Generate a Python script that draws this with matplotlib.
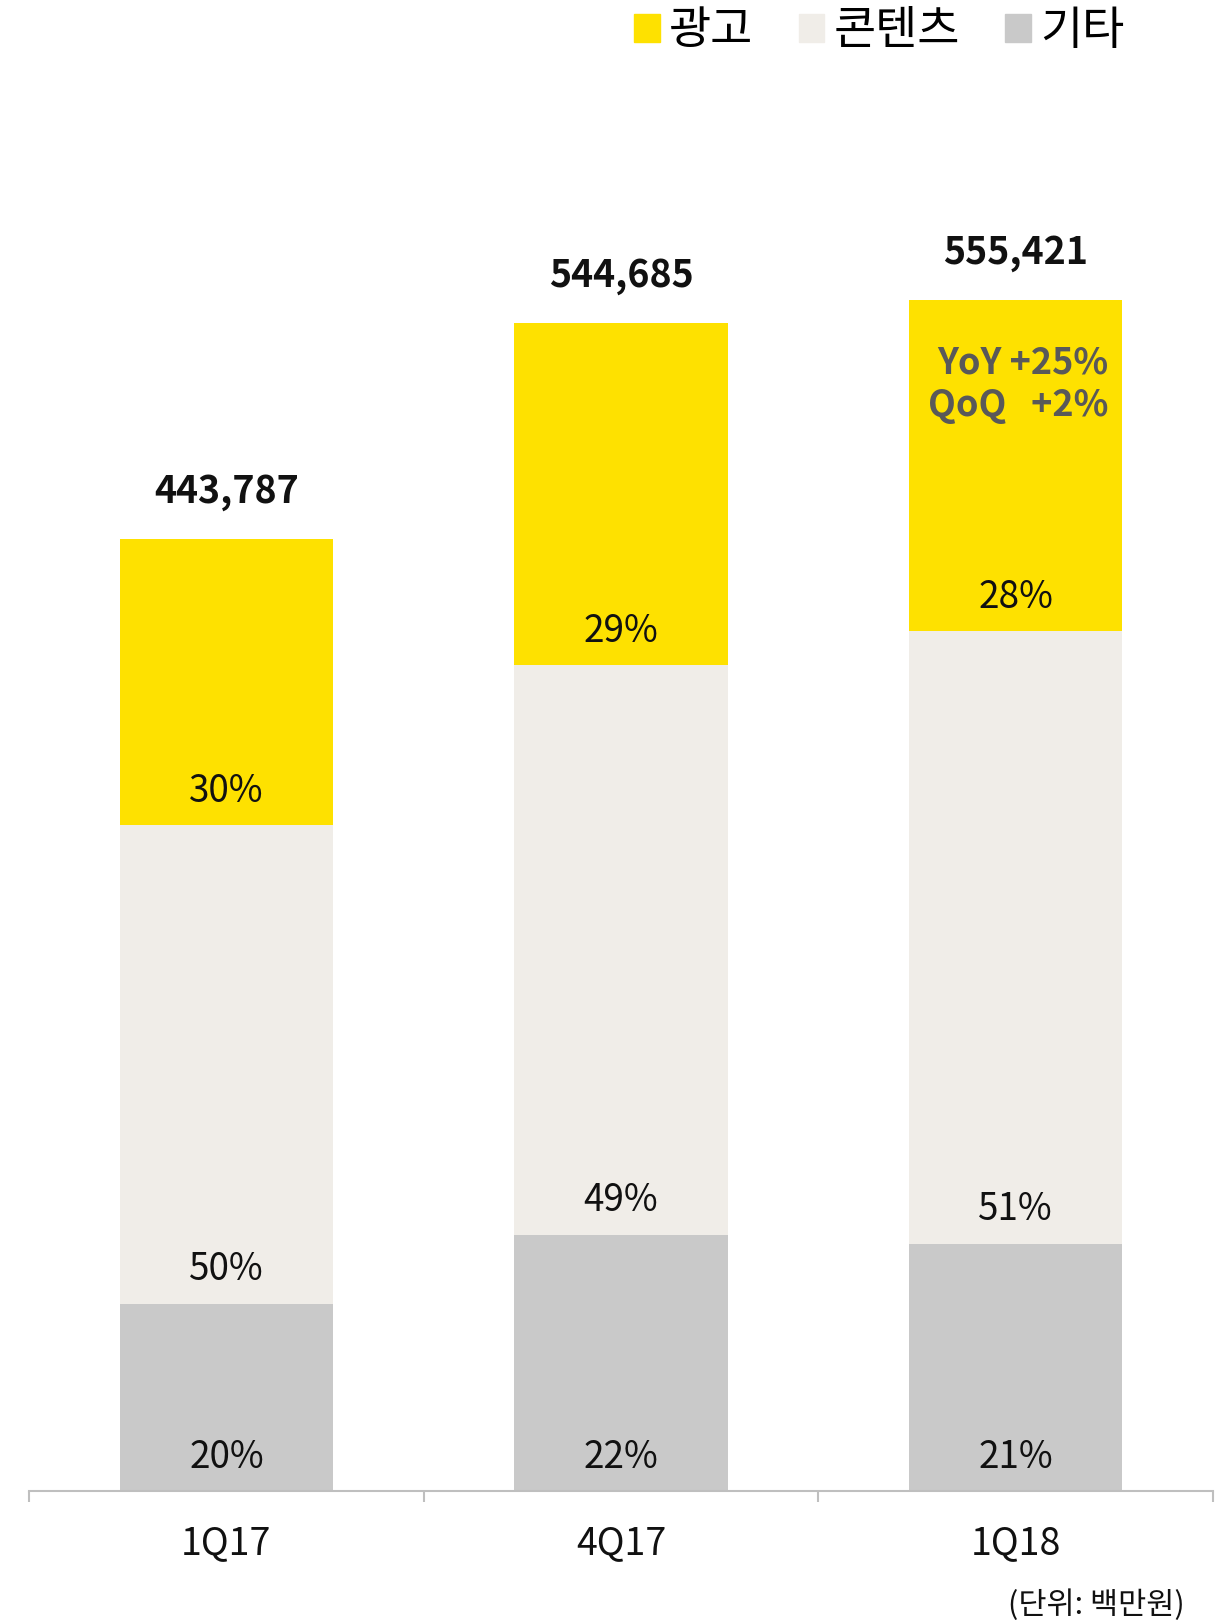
import matplotlib
matplotlib.use("Agg")
import matplotlib.pyplot as plt
from matplotlib.patches import Patch
import numpy as np

plt.rcParams['font.family'] = ['Noto Sans CJK KR', 'DejaVu Sans']

quarters = ["1Q17", "4Q17", "1Q18"]
# 백만원
other = [87000, 119300, 115000]
content = [223700, 265800, 286000]
ads = [133087, 159585, 154421]
totals = ["443,787", "544,685", "555,421"]
other_pct = ["20%", "22%", "21%"]
content_pct = ["50%", "49%", "51%"]
ads_pct = ["30%", "29%", "28%"]
growth_note = "YoY +25%\nQoQ   +2%"

c_ads = "#FEE100"
c_content = "#F0EDE8"
c_other = "#C9C9C9"

fig = plt.figure(figsize=(12.25, 16.21), dpi=100)
ax = fig.add_axes([0.0237, 0.0802, 0.9665, 0.860])

x = np.arange(len(quarters))
w = 0.54
ax.bar(x, other, w, color=c_other)
ax.bar(x, content, w, bottom=other, color=c_content)
bottom3 = np.array(other) + np.array(content)
ax.bar(x, ads, w, bottom=bottom3, color=c_ads)

for i in range(len(quarters)):
    ax.annotate(other_pct[i], (x[i], 0), xytext=(0, 24), textcoords="offset points",
                ha="center", va="center", fontsize=26.5, color="#111111")
    ax.annotate(content_pct[i], (x[i], other[i]), xytext=(0, 25), textcoords="offset points",
                ha="center", va="center", fontsize=26.5, color="#111111")
    ax.annotate(ads_pct[i], (x[i], bottom3[i]), xytext=(0, 24), textcoords="offset points",
                ha="center", va="center", fontsize=26.5, color="#111111")
    top = bottom3[i] + ads[i]
    ax.annotate(totals[i], (x[i], top), xytext=(0, 34), textcoords="offset points",
                ha="center", va="center", fontsize=27, fontweight="bold", color="#111111")

# YoY / QoQ note inside last bar
last = len(quarters) - 1
ax.annotate(growth_note, (x[last] + w / 2, bottom3[last] + ads[last]), xytext=(-10, -61),
            textcoords="offset points", ha="right", va="center", multialignment="right",
            fontsize=26, fontweight="bold", color="#595959", linespacing=1.2)

ax.set_xlim(-0.5, 2.5)
ax.set_ylim(0, 650000)
for s in ["top", "right", "left"]:
    ax.spines[s].set_visible(False)
ax.spines["bottom"].set_color("#BFBFBF")
ax.spines["bottom"].set_linewidth(1.5)
ax.set_yticks([])
ax.set_xticks(x)
ax.set_xticklabels(quarters, fontsize=27, color="#111111")
ax.tick_params(axis="x", which="major", length=0, pad=24)
ax.set_xticks([-0.5, 0.5, 1.5, 2.5], minor=True)
ax.tick_params(axis="x", which="minor", length=8, width=1.5, color="#BFBFBF")

handles = [Patch(color=c_ads), Patch(color=c_content), Patch(color=c_other)]
fig.legend(handles, ["광고", "콘텐츠", "기타"], loc="upper right", bbox_to_anchor=(0.94, 1.013),
           ncol=3, frameon=False, fontsize=33, handlelength=0.55, handleheight=0.55,
           handletextpad=0.2, columnspacing=1.0, borderpad=0.1)

fig.text(0.967, 0.010, "(단위: 백만원)", ha="right", va="center", fontsize=22, color="#111111")

fig.savefig("out.png", dpi=100)
